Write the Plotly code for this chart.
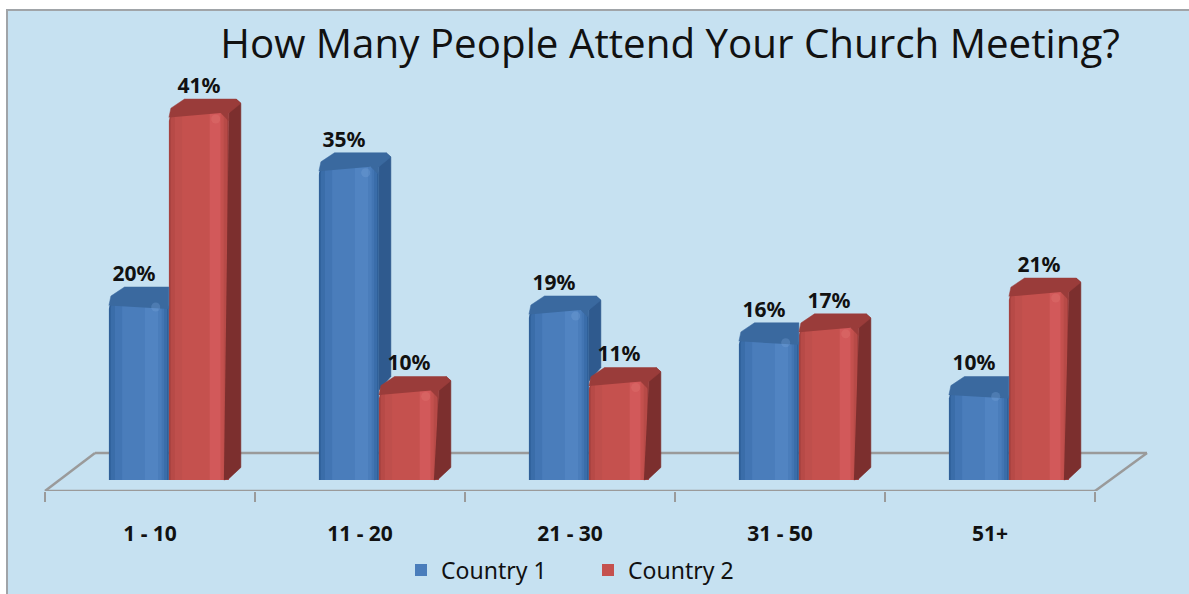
import plotly.graph_objects as go

categories = ["1 - 10", "11 - 20", "21 - 30", "31 - 50", "51+"]
country_1 = [20, 35, 19, 16, 10]
country_2 = [41, 10, 11, 17, 21]

W, H = 1189, 594
PX_X = 210.0
PX_Y = 8.95
AX_L = 45
BASE_PY = 480
AXIS_PY = 491
PLOT_H = AXIS_PY
xr = [-AX_L / PX_X, (W - AX_L) / PX_X]
yr = [-(AXIS_PY - BASE_PY) / PX_Y, BASE_PY / PX_Y]
BW = 60 / PX_X
DX = 12 / PX_X
DY = 14 / PX_Y
GROUP_SHIFT = 0.59
centers = [i + GROUP_SHIFT for i in range(len(categories))]

BLUE = dict(edge="#2f5f98", strips=[(0.03, 0.97, "#3a6da9"), (0.10, 0.92, "#4275b3"), (0.22, 0.88, "#4a7dbb"), (0.60, 0.82, "#5184c2")],
            side="#2f5a8e", top="#3a699f", gloss="#7ba6dc", label_shift=-5 / PX_X)
RED = dict(edge="#a5413f", strips=[(0.03, 0.97, "#b74a47"), (0.10, 0.92, "#bf4f4c"), (0.22, 0.90, "#c5514e"), (0.68, 0.86, "#d2595a")],
           side="#7c2f2e", top="#9a3c3a", gloss="#e57a76", label_shift=0)

fig = go.Figure()


def add_front(name, xs, vals, pal):
    fig.add_bar(x=xs, y=vals, width=BW, showlegend=False, marker=dict(color=pal["edge"], cornerradius=8, line_width=0),
                hoverinfo="skip")
    for k, (a, b, col) in enumerate(pal["strips"]):
        cr = 7 if a < 0.05 else 0
        fig.add_bar(x=[x - BW / 2 + BW * (a + b) / 2 for x in xs], y=vals, width=BW * (b - a),
                    name=name, showlegend=(k == 2),
                    marker=dict(color=col, cornerradius=cr, line_width=0), hoverinfo="skip")


def poly(xp, yp, col):
    fig.add_scatter(x=xp, y=yp, mode="lines", fill="toself", fillcolor=col, line=dict(color=col, width=0.5),
                    showlegend=False, hoverinfo="skip")


def side_face(xl, v, floor_v, pal):
    x = xl + BW
    low = floor_v
    if low == 0:
        xp = [x - 5 / PX_X, x, x + DX, x + DX, x + DX * 0.6, x]
        yp = [0, 0.15, DY * 0.9, v + DY * 0.7, v + DY, v]
    else:
        xp = [x, x + DX, x + DX, x + DX * 0.6, x]
        yp = [low, low + DY, v + DY * 0.7, v + DY, v]
    poly(xp, yp, pal["side"])


def top_face(xl, v, pal, clip=False):
    x = xl + BW
    notch_x = 8 / PX_X
    notch_y = 8 / PX_Y
    if clip:
        xp = [xl, xl + 2 / PX_X, xl + DX * 1.3, x, x]
        yp = [v - 0.5, v + DY * 0.35, v + DY, v + DY, v - notch_y]
    else:
        xp = [xl, xl + 2 / PX_X, xl + DX * 1.3, x + DX * 0.6, x + DX, x, x, x - notch_x]
        yp = [v - 0.5, v + DY * 0.35, v + DY, v + DY, v + DY * 0.7, v, v - notch_y, v]
    poly(xp, yp, pal["top"])


blue_x = [c - BW / 2 for c in centers]
red_x = [c + BW / 2 for c in centers]
add_front("Country 1", blue_x, country_1, BLUE)
add_front("Country 2", red_x, country_2, RED)

for bx, rx, b, r in zip(blue_x, red_x, country_1, country_2):
    if b > r:
        side_face(bx - BW / 2, b, r, BLUE)
        top_face(bx - BW / 2, b, BLUE)
    else:
        top_face(bx - BW / 2, b, BLUE, clip=True)
    side_face(rx - BW / 2, r, 0, RED)
    top_face(rx - BW / 2, r, RED)

for xs, vals, pal in ((blue_x, country_1, BLUE), (red_x, country_2, RED)):
    fig.add_scatter(x=[x + 0.28 * BW for x in xs], y=[v - 6 / PX_Y for v in vals], mode="markers",
                    marker=dict(size=9, color=pal["gloss"], opacity=0.3, symbol="circle"),
                    showlegend=False, hoverinfo="skip")

label_font = dict(family="Noto Sans", size=21, color="#111111", weight="bold")
for xs, vals, pal in ((blue_x, country_1, BLUE), (red_x, country_2, RED)):
    fig.add_scatter(x=[x + pal["label_shift"] for x in xs], y=[v + DY + 0.1 for v in vals], mode="text",
                    text=[f"{v}%" for v in vals], textposition="top center", textfont=label_font,
                    showlegend=False, hoverinfo="skip", cliponaxis=False)

GREY = "#9a9a9a"
n = len(categories)
shapes = [
    dict(type="rect", xref="paper", yref="paper", x0=7 / W, x1=1.02, y0=-0.3, y1=(AXIS_PY - 10) / PLOT_H,
         fillcolor="#c6e1f1", line=dict(color="#a0a4a8", width=2), layer="below"),
]
floor_back = (BASE_PY - 453) / PX_Y
back_l, back_r = 50 / PX_X, n + 52 / PX_X
for x0, y0, x1, y1 in [(0, yr[0], n, yr[0]), (0, yr[0], back_l, floor_back),
                       (back_l, floor_back, back_r, floor_back), (n, yr[0], back_r, floor_back)]:
    shapes.append(dict(type="line", xref="x", yref="y", x0=x0, y0=y0, x1=x1, y1=y1,
                       line=dict(color=GREY, width=2.5), layer="below"))

fig.update_layout(
    width=W, height=H, margin=dict(l=0, r=0, t=0, b=H - AXIS_PY, autoexpand=False),
    paper_bgcolor="white", plot_bgcolor="rgba(0,0,0,0)", barmode="overlay",
    shapes=shapes, showlegend=True,
    title=dict(text="How Many People Attend Your Church Meeting?", x=670 / W, xanchor="center", xref="paper",
               y=1 - 44 / H, yanchor="middle", yref="container", font=dict(family="Open Sans", size=40.3, color="#111111")),
    legend=dict(orientation="h", x=401 / W, xanchor="left", y=(AXIS_PY - 570) / PLOT_H, yanchor="middle",
                bgcolor="rgba(0,0,0,0)", font=dict(family="Noto Sans", size=23, color="#111111"),
                entrywidth=142, entrywidthmode="pixels", traceorder="normal"),
    xaxis=dict(range=xr, showgrid=False, zeroline=False, showline=False, tickmode="array",
               tickvals=[i + 0.5 for i in range(n)], ticktext=categories, ticks="outside", ticklen=24,
               tickcolor="rgba(0,0,0,0)", tickfont=dict(family="Noto Sans", size=21, color="#111111", weight="bold"),
               minor=dict(tickmode="array", tickvals=list(range(n + 1)), ticks="outside", ticklen=10, tickcolor=GREY, tickwidth=2)),
    yaxis=dict(range=yr, visible=False),
)
fig.write_html("out.html", post_script="document.body.style.margin='0';", config=dict(displayModeBar=False))
